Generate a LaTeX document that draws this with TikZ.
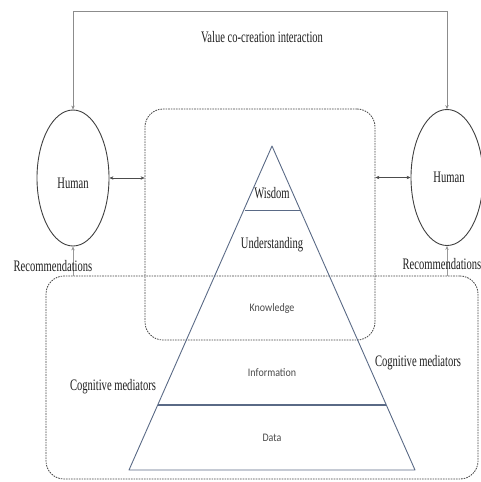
\documentclass[tikz,border=0pt]{standalone}
\usepackage{fontspec}
\setmainfont{Liberation Serif}[FakeStretch=0.66]
\newfontfamily\calib{Carlito}[FakeStretch=0.87]
\usetikzlibrary{shapes.geometric,arrows.meta}
\definecolor{slate}{HTML}{5A6A86}
\definecolor{txt}{HTML}{1E1E1E}
\definecolor{sanstxt}{HTML}{4A4A4A}
\definecolor{dashc}{HTML}{444444}
\tikzset{
  serif/.style={font=\fontsize{16}{18}\selectfont, text=txt, inner sep=0pt},
  sans/.style={font=\calib\fontsize{11.5}{13}\selectfont, text=sanstxt, inner sep=0pt},
  human/.style={draw=black!75, line width=0.9pt, ellipse, minimum width=72pt, minimum height=136pt, inner sep=0pt},
  dashbox/.style={draw=dashc, line width=0.8pt, dash pattern=on 1.6pt off 1pt, rounded corners=18pt, inner sep=0pt},
  tip/.style={-{Stealth[length=4pt,width=3.4pt]}},
  bitip/.style={{Stealth[length=4pt,width=3.4pt]}-{Stealth[length=4pt,width=3.4pt]}},
  pyr/.style={draw=slate, line width=0.9pt}
}
\begin{document}
\begin{tikzpicture}[x=1pt,y=-1pt]
\useasboundingbox (0,0) rectangle (481,482);
% boxes
\node[dashbox, minimum width=230pt, minimum height=231pt] (inner) at (260,224.5) {};
\node[dashbox, minimum width=432pt, minimum height=203pt] (outer) at (262,377.5) {};
% pyramid
\coordinate (apex) at (272,146);
\coordinate (bl) at (129,470);
\coordinate (br) at (415,470);
\draw[pyr, line join=round] (apex) -- (br) -- (bl) -- cycle;
\draw[pyr] (244.5,210) -- (299.5,210);
\draw[pyr, line width=1.3pt] (158,405) -- (386,405);
% humans
\node[human] (hl) at (73,178) {};
\node[human] (hr) at (447,177.5) {};
\node[serif] at (73,183) {Human};
\node[serif] at (449,177) {Human};
% top interaction
\coordinate (top) at (262,11);
\draw[tip, draw=black!45] (top) -| (hl.north);
\draw[tip, draw=black!45] (top) -| (hr.north);
\node[serif] (vci) at (262,37) {Value co-creation interaction};
% side arrows
\draw[bitip, draw=black!70] (hl.east) -- (hl.east -| inner.west);
\draw[bitip, draw=black!70] (hr.west) -- (hr.west -| inner.east);
% recommendations
\draw[tip, draw=black!40] (hl.south |- outer.north) -- (hl.south);
\draw[tip, draw=black!40] (hr.south |- outer.north) -- (hr.south);
\node[serif] (recl) at (53,266) {Recommendations};
\node[serif] (recr) at (442,264) {Recommendations};
% pyramid labels
\node[serif] (wis) at (272,193) {Wisdom};
\node[serif] (und) at (272,245) {Understanding};
\node[sans] (kno) at (272,308) {Knowledge};
\node[sans] (inf) at (272,373) {Information};
\node[sans] (dat) at (272,438) {Data};
% cognitive mediators
\node[serif] (cml) at (113,387) {Cognitive mediators};
\node[serif] (cmr) at (418,363) {Cognitive mediators};
\end{tikzpicture}
\end{document}
